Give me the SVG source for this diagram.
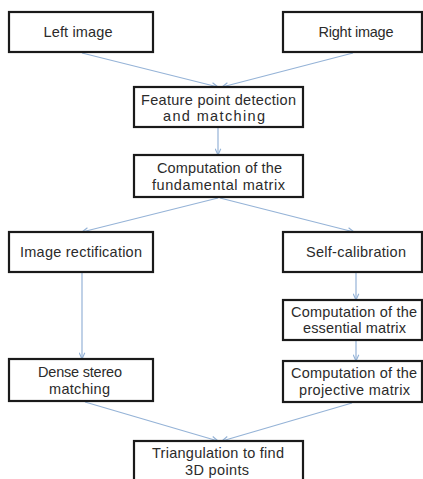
<svg xmlns="http://www.w3.org/2000/svg" width="423" height="479" viewBox="0 0 423 479">
<defs>
<style>
.box{fill:#ffffff;stroke:#1a1a1a;stroke-width:2.2}
.t{font-family:"Liberation Sans",Arial,sans-serif;font-size:14.5px;fill:#2b2b2b;text-anchor:middle}
.c{fill:none;stroke:#95B3D7;stroke-width:1.2}
</style>
<marker id="ah" viewBox="0 0 10 10" refX="10" refY="5" markerWidth="7" markerHeight="7" markerUnits="userSpaceOnUse" orient="auto">
<path d="M1,1 L10,5 L1,9" fill="none" stroke="#95B3D7" stroke-width="1.6"/>
</marker>
</defs>
<rect width="423" height="479" fill="#ffffff"/>
<g id="connectors">
<line class="c" x1="82" y1="53" x2="218" y2="87" marker-end="url(#ah)"/>
<line class="c" x1="353" y1="53" x2="222" y2="87" marker-end="url(#ah)"/>
<line class="c" x1="218" y1="127" x2="218" y2="155" marker-end="url(#ah)"/>
<line class="c" x1="218" y1="198" x2="82" y2="232" marker-end="url(#ah)"/>
<line class="c" x1="220" y1="198" x2="354" y2="232" marker-end="url(#ah)"/>
<line class="c" x1="82" y1="273" x2="82" y2="359" marker-end="url(#ah)"/>
<line class="c" x1="356" y1="273" x2="356" y2="300" marker-end="url(#ah)"/>
<line class="c" x1="356" y1="341" x2="356" y2="361" marker-end="url(#ah)"/>
<line class="c" x1="85" y1="402" x2="218" y2="441" marker-end="url(#ah)"/>
<line class="c" x1="352" y1="403" x2="222" y2="441" marker-end="url(#ah)"/>
</g>
<g id="left-image">
<rect class="box" x="9" y="12" width="144" height="40"/>
<text class="t" x="78" y="37" textLength="69">Left image</text>
</g>
<g id="right-image">
<rect class="box" x="283" y="12" width="139" height="40"/>
<text class="t" x="356" y="37" textLength="75">Right image</text>
</g>
<g id="feature-point">
<rect class="box" x="134" y="87" width="169" height="40"/>
<text class="t" x="218.5" y="104.5" textLength="155">Feature point detection</text>
<text class="t" x="214" y="121" textLength="102">and matching</text>
</g>
<g id="fundamental">
<rect class="box" x="134" y="155" width="169" height="42"/>
<text class="t" x="219.5" y="173" textLength="125">Computation of the</text>
<text class="t" x="218.5" y="190" textLength="133">fundamental matrix</text>
</g>
<g id="rectification">
<rect class="box" x="9" y="232" width="144" height="40"/>
<text class="t" x="81" y="257" textLength="122">Image rectification</text>
</g>
<g id="self-calibration">
<rect class="box" x="283" y="232" width="139" height="40"/>
<text class="t" x="356" y="257" textLength="100">Self-calibration</text>
</g>
<g id="essential">
<rect class="box" x="283" y="300" width="139" height="40"/>
<text class="t" x="354" y="317" textLength="126">Computation of the</text>
<text class="t" x="354.5" y="333" textLength="103">essential matrix</text>
</g>
<g id="projective">
<rect class="box" x="283" y="361" width="139" height="41"/>
<text class="t" x="354" y="378" textLength="126">Computation of the</text>
<text class="t" x="354.5" y="395" textLength="111">projective matrix</text>
</g>
<g id="dense">
<rect class="box" x="9" y="359" width="144" height="42"/>
<text class="t" x="80" y="377" textLength="84">Dense stereo</text>
<text class="t" x="79.5" y="394" textLength="61">matching</text>
</g>
<g id="triangulation">
<rect class="box" x="134" y="441" width="169" height="45"/>
<text class="t" x="218" y="458" textLength="132">Triangulation to find</text>
<text class="t" x="217" y="475" textLength="64">3D points</text>
</g>
</svg>
